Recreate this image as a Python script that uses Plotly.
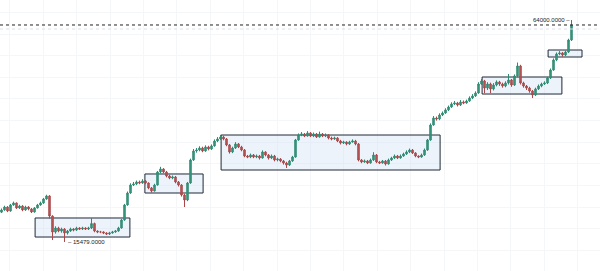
import plotly.graph_objects as go

first_open = 22000
closes = [
    22470, 23120, 22250, 23560, 24000, 22910, 23340, 22470, 23120, 22690,
    22030, 22910, 23560, 24000, 24870, 25530, 21150, 17660, 18530, 17870,
    18310, 17440, 17870, 18310, 18090, 18530, 18310, 18530, 18310, 18530,
    19500, 17870, 17660, 17660, 17440, 17220, 17440, 17660, 17870, 18530,
    20280, 23560, 26180, 27930, 28150, 28590, 28370, 28810, 28370, 27280,
    26620, 27930, 30770, 31430, 30770, 29900, 29460, 29680, 28590, 27930,
    25750, 24650, 28370, 33400, 35360, 35580, 36020, 35360, 36240, 35800,
    36460, 37550, 37990, 38420, 37990, 36680, 35150, 36020, 36900, 36240,
    35580, 34270, 34050, 34490, 34050, 34270, 33830, 35150, 34490, 33830,
    34270, 33400, 33610, 33180, 32740, 32300, 33180, 34050, 37770, 38860,
    39080, 38640, 39300, 38640, 39080, 38420, 39080, 38640, 38860, 38200,
    37990, 38200, 37550, 37110, 37330, 36900, 37330, 37550, 36900, 33400,
    32960, 33180, 32740, 33400, 34490, 32960, 32740, 33180, 32520, 33400,
    33830, 34270, 33830, 34270, 34710, 35150, 35580, 34930, 34270, 34050,
    34490, 35580, 37770, 41050, 42580, 42360, 43230, 43670, 44330, 44980,
    45640, 45860, 45420, 46080, 45860, 46290, 46950, 47390, 48040, 50010,
    50670, 49130, 50010, 48920, 49790, 50450, 50010, 49570, 50230, 50890,
    49790, 51760, 53950, 50230, 49570, 49130, 48480, 47600, 48920, 49570,
    50010, 50230, 51320, 53070, 55260, 56570, 56790, 56350, 57000, 59630,
    62910,
]
highs = [
    22800, 23400, 23300, 23800, 24300, 24100, 23600, 23500, 23400, 23300,
    22900, 23100, 23800, 24300, 25100, 25800, 25700, 21300, 18900, 18800,
    18600, 18500, 18100, 18600, 18500, 18800, 18700, 18800, 18700, 18800,
    20700, 19700, 18000, 17900, 17800, 17600, 17700, 17900, 18100, 18800,
    20500, 23800, 26500, 28300, 28600, 28900, 28900, 29200, 29000, 28500,
    27500, 28200, 31000, 31900, 31600, 31000, 30200, 30000, 29900, 28800,
    28100, 26000, 28600, 33700, 35800, 36000, 36400, 36300, 36600, 36500,
    36800, 37900, 38400, 38900, 38700, 38200, 36900, 36300, 37300, 37100,
    36500, 35800, 34500, 34800, 34700, 34600, 34500, 35500, 35300, 34700,
    34600, 34500, 33900, 33800, 33400, 33000, 33400, 34300, 38000, 39200,
    39500, 39300, 39700, 39500, 39400, 39300, 39600, 39300, 39200, 39000,
    38500, 38500, 38400, 37800, 37600, 37500, 37600, 37900, 37800, 37100,
    33600, 33500, 33400, 33700, 35100, 34700, 33200, 33400, 33400, 33700,
    34100, 34600, 34500, 34600, 35000, 35500, 35900, 35800, 35100, 34400,
    34800, 35900, 38000, 41400, 43000, 42900, 43600, 44000, 44700, 45300,
    46000, 46300, 46100, 46500, 46400, 46600, 47300, 47800, 48400, 50400,
    51100, 50900, 50400, 50300, 50200, 50800, 50700, 50300, 50600, 52200,
    51100, 52100, 54700, 54200, 50500, 49800, 49400, 48700, 49200, 49900,
    50300, 50600, 51600, 53400, 55600, 56900, 57200, 57000, 57300, 59900,
    64000,
]
lows = [
    21800, 22300, 22000, 22100, 23400, 22700, 22700, 22200, 22300, 22400,
    21800, 21900, 22800, 23400, 23800, 24700, 20600, 15910, 17300, 17600,
    17500, 15479, 17100, 17700, 17800, 17900, 18100, 18100, 18100, 18100,
    18300, 17600, 17400, 17400, 17200, 17000, 17000, 17300, 17500, 17700,
    18400, 20100, 23400, 26000, 27700, 27900, 28100, 28200, 28100, 27000,
    26300, 26500, 27800, 30500, 30500, 29600, 29200, 29200, 28300, 27600,
    25400, 23120, 24400, 28200, 33200, 35000, 35300, 35100, 35200, 35500,
    35600, 36300, 37300, 37800, 37700, 36400, 34800, 34900, 35800, 36000,
    35300, 34000, 33800, 33800, 33800, 33800, 33500, 33700, 34200, 33500,
    33600, 33100, 33100, 32900, 32400, 31650, 32100, 33000, 33900, 37600,
    38600, 38400, 38500, 38400, 38400, 38200, 38300, 38400, 38400, 37900,
    37700, 37800, 37300, 36800, 36900, 36600, 36700, 37200, 36600, 33100,
    32700, 32800, 32500, 32600, 33200, 32700, 32500, 32600, 32200, 32400,
    33200, 33600, 33600, 33700, 34100, 34500, 34900, 34700, 34000, 33800,
    33900, 34300, 35400, 37600, 40900, 42000, 42100, 43000, 43500, 44100,
    44800, 45400, 45100, 45200, 45600, 45700, 46100, 46700, 47200, 47900,
    49800, 48000, 48700, 48000, 48600, 49500, 49600, 49200, 49300, 49900,
    49400, 49600, 51500, 49900, 49200, 48700, 48100, 46950, 47400, 48700,
    49300, 49800, 50000, 51100, 52900, 55000, 56300, 56000, 56100, 56800,
    59400,
]
opens = [first_open] + closes[:-1]
idx = list(range(len(closes)))

# consolidation zones: (start index, end index, low price, high price)
zones = [
    (11.2, 42.8, 16560, 20720),
    (47.8, 67.2, 26180, 30340),
    (73.2, 146.2, 31210, 38860),
    (160.2, 186.8, 47820, 51540),
    (182.2, 193.5, 55910, 57440),
]
reference_level = 62030

fig = go.Figure()
fig.add_trace(go.Candlestick(
    x=idx, open=opens, high=highs, low=lows, close=closes,
    increasing=dict(line=dict(color="#2f8a72", width=1), fillcolor="#3a9c83"),
    decreasing=dict(line=dict(color="#a8484a", width=1), fillcolor="#c0595a"),
    whiskerwidth=0, showlegend=False, hoverinfo="skip",
))

shapes = []
for x0, x1, lo, hi in zones:
    shapes.append(dict(type="rect", xref="x", yref="y", x0=x0, x1=x1, y0=lo, y1=hi,
                       fillcolor="rgba(210,226,244,0.4)",
                       line=dict(color="#1e2a36", width=1), layer="between"))
shapes.append(dict(type="line", xref="paper", yref="y", x0=0, x1=1,
                   y0=closes[-1], y1=closes[-1],
                   line=dict(color="#222222", width=1, dash="dot")))
shapes.append(dict(type="line", xref="paper", yref="y", x0=0, x1=1,
                   y0=reference_level, y1=reference_level,
                   line=dict(color="#d8e1ea", width=1, dash="dot")))

lo_i = min(idx, key=lambda i: lows[i])
hi_i = max(idx, key=lambda i: highs[i])
annotations = [
    dict(x=lo_i, y=lows[lo_i], xref="x", yref="y", text=f"\u2013 {lows[lo_i]:.4f}",
         showarrow=False, xanchor="left", yanchor="middle", xshift=1,
         font=dict(size=6, color="#222222", family="Liberation Sans")),
    dict(x=hi_i, y=highs[hi_i], xref="x", yref="y", text=f"{highs[hi_i]:.4f} \u2013",
         showarrow=False, xanchor="right", yanchor="middle", xshift=0,
         font=dict(size=6, color="#222222", family="Liberation Sans")),
]

fig.update_layout(
    width=600, height=271, margin=dict(l=0, r=0, t=0, b=0),
    paper_bgcolor="white", plot_bgcolor="white",
    shapes=shapes, annotations=annotations, showlegend=False,
    xaxis=dict(range=[-0.5, 199.5], rangeslider=dict(visible=False),
               showticklabels=False, showgrid=True, gridcolor="#f4f6f7",
               tick0=2.83, dtick=11.13, zeroline=False, showline=False, ticks=""),
    yaxis=dict(range=[9131, 68372], showticklabels=False, showgrid=True,
               gridcolor="#f4f6f7", tick0=23122, dtick=4722, zeroline=False,
               showline=False, ticks=""),
)
fig.write_html("out.html")
